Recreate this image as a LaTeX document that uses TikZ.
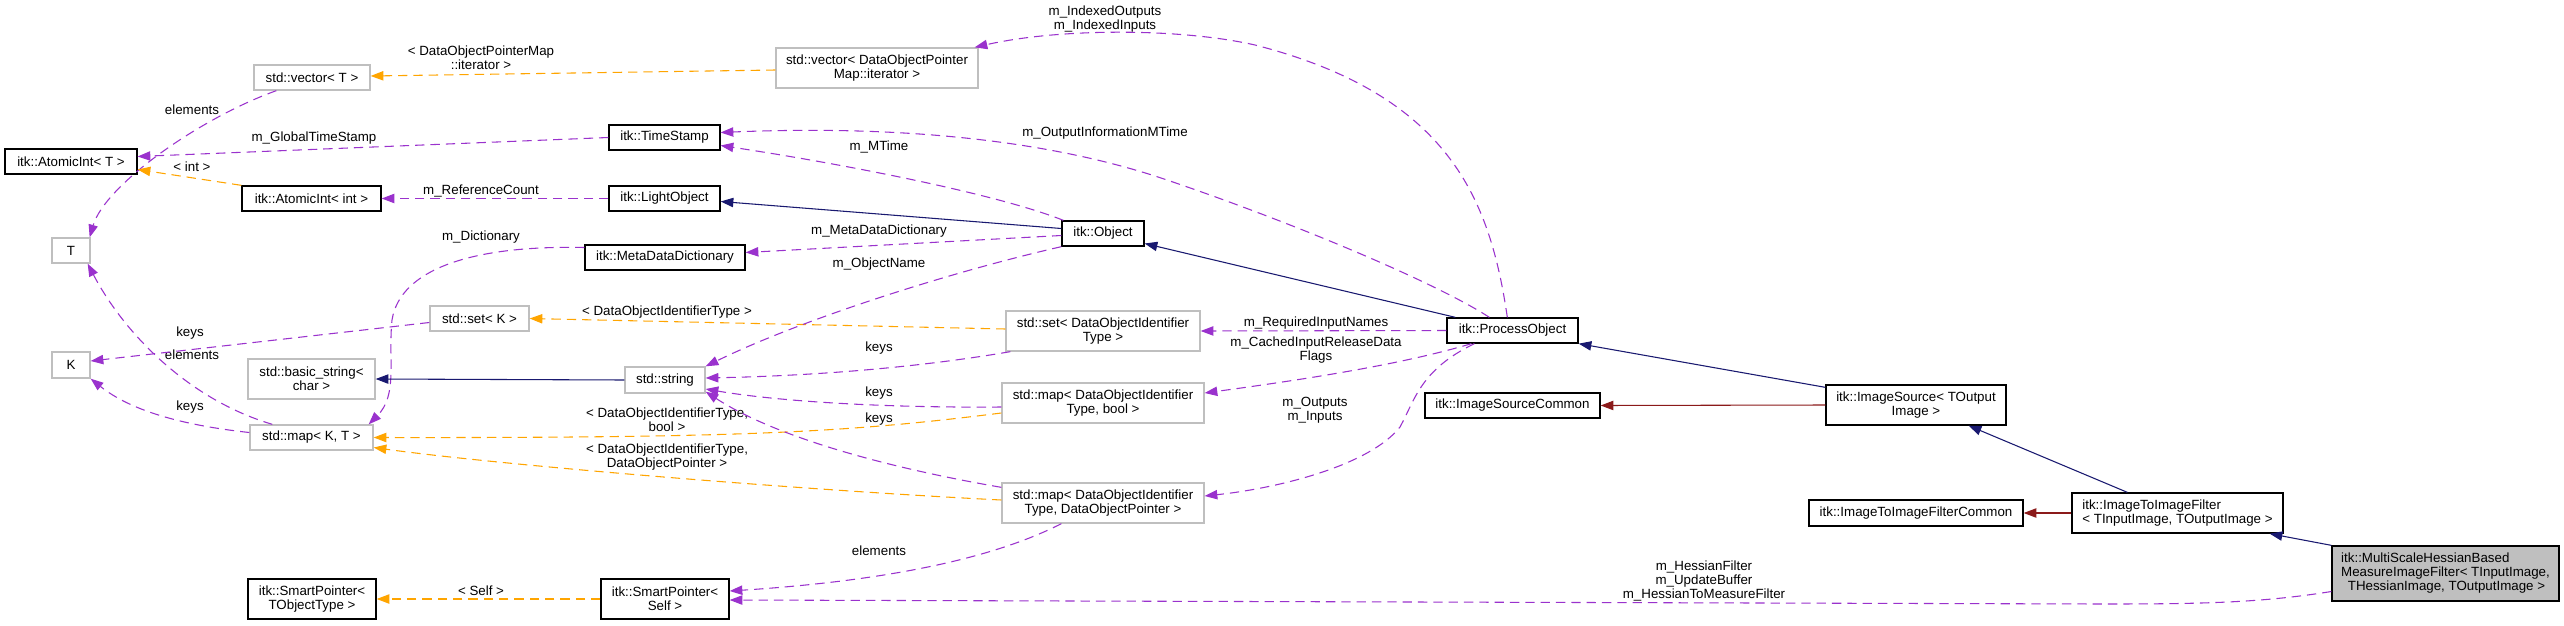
\documentclass[tikz,border=0pt]{standalone}
\usepackage{fontspec}
\setmainfont{Liberation Sans}
\usetikzlibrary{arrows.meta,calc}
\definecolor{epurple}{HTML}{9A32CD}
\definecolor{eorange}{HTML}{FFA500}
\definecolor{enavy}{HTML}{191970}
\definecolor{ered}{HTML}{8B1A1A}
\definecolor{gborder}{HTML}{BFBFBF}
\definecolor{msfill}{HTML}{BFBFBF}
\newcommand\dxbox[7]{\node[#2, minimum width={(#5-#3)*0.75pt}, minimum height={(#6-#4)*0.75pt}] (#1) at ({(#3+#5)/2},{(#4+#6)/2}) {#7};}
\begin{document}
\begin{tikzpicture}[x=0.75pt,y=-0.75pt,
  every node/.style={font=\fontsize{10}{10.5}\selectfont, inner sep=0pt},
  cls/.style={draw=black, line width=1pt, fill=white, align=center},
  ucls/.style={draw=gborder, line width=1pt, fill=white, align=center},
  lbl/.style={align=center},
  tip/.style={-{Triangle[length=9.5pt,width=7pt]}},
  uses/.style={tip, color=epurple, line width=0.8pt, dash pattern=on 7pt off 4.5pt},
  tmpl/.style={tip, color=eorange, line width=0.8pt, dash pattern=on 7pt off 4.5pt},
  inh/.style={tip, color=enavy, line width=0.8pt},
  priv/.style={tip, color=ered, line width=0.8pt}]
\fill[white] (0,0) rectangle (2564,625);
\useasboundingbox (0,0) rectangle (2564,625);
% nodes
\dxbox{ati}{cls}{5}{149}{137}{174}{itk::AtomicInt< T >}
\dxbox{vecT}{ucls}{254}{65}{370}{90}{std::vector< T >}
\dxbox{T}{ucls}{52}{238}{90}{263}{T}
\dxbox{atint}{cls}{242}{186}{381}{211}{itk::AtomicInt< int >}
\dxbox{setK}{ucls}{430}{306}{529}{331}{std::set< K >}
\dxbox{K}{ucls}{52}{352}{90}{378}{K}
\dxbox{bstr}{ucls}{248}{359}{375}{399}{std::basic\_string<\\char >}
\dxbox{mapKT}{ucls}{250}{425}{373}{450}{std::map< K, T >}
\dxbox{spT}{cls}{248}{579}{376}{619}{itk::SmartPointer<\\TObjectType >}
\dxbox{ts}{cls}{609}{125}{720}{150}{itk::TimeStamp}
\dxbox{lo}{cls}{609}{186}{720}{211}{itk::LightObject}
\dxbox{mdd}{cls}{585}{245}{745}{270}{itk::MetaDataDictionary}
\dxbox{str}{ucls}{625}{367}{705}{393}{std::string}
\dxbox{spS}{cls}{601}{579}{729}{619}{itk::SmartPointer<\\Self >}
\dxbox{vecD}{ucls}{776}{48}{978}{88}{std::vector< DataObjectPointer\\Map::iterator >}
\dxbox{obj}{cls}{1062}{221}{1144}{246}{itk::Object}
\dxbox{setD}{ucls}{1006}{311}{1200}{351}{std::set< DataObjectIdentifier\\Type >}
\dxbox{mapB}{ucls}{1002}{383}{1204}{423}{std::map< DataObjectIdentifier\\Type, bool >}
\dxbox{mapP}{ucls}{1002}{483}{1204}{523}{std::map< DataObjectIdentifier\\Type, DataObjectPointer >}
\dxbox{po}{cls}{1447}{318}{1578}{343}{itk::ProcessObject}
\dxbox{isc}{cls}{1425}{393}{1600}{418}{itk::ImageSourceCommon}
\dxbox{is}{cls}{1826}{385}{2006}{425}{itk::ImageSource< TOutput\\Image >}
\dxbox{itifc}{cls}{1809}{500}{2023}{526}{itk::ImageToImageFilterCommon}
\dxbox{itif}{cls,align=left}{2072}{493}{2283}{533}{itk::ImageToImageFilter\\< TInputImage, TOutputImage >}
\dxbox{ms}{cls,fill=msfill,align=left}{2332}{546}{2559}{601}{itk::MultiScaleHessianBased\\MeasureImageFilter< TInputImage,\\\hspace*{0.5em}THessianImage, TOutputImage >}
% labels
\node[lbl] (l1) at (481,57.5) {< DataObjectPointerMap\\::iterator >};
\node[lbl] (l2) at (192,110) {elements};
\node[lbl] (l3) at (314,138) {m\_GlobalTimeStamp};
\node[lbl] (l4) at (192,167) {< int >};
\node[lbl] (l5) at (481,191) {m\_ReferenceCount};
\node[lbl] (l6) at (481,237) {m\_Dictionary};
\node[lbl] (l7) at (190,333) {keys};
\node[lbl] (l8) at (192,355) {elements};
\node[lbl] (l9) at (190,407) {keys};
\node[lbl] (l10) at (481,591) {< Self >};
\node[lbl] (l11) at (1105,19.5) {m\_IndexedOutputs\\m\_IndexedInputs};
\node[lbl] (l12) at (1105,133) {m\_OutputInformationMTime};
\node[lbl] (l13) at (879,147) {m\_MTime};
\node[lbl] (l14) at (879,231) {m\_MetaDataDictionary};
\node[lbl] (l15) at (879,264) {m\_ObjectName};
\node[lbl] (l16) at (667,312) {< DataObjectIdentifierType >};
\node[lbl] (l17) at (879,348) {keys};
\node[lbl] (l18) at (879,393) {keys};
\node[lbl] (l19) at (879,419) {keys};
\node[lbl] (l20) at (667,419.5) {< DataObjectIdentifierType,\\bool >};
\node[lbl] (l21) at (667,457.5) {< DataObjectIdentifierType,\\DataObjectPointer >};
\node[lbl] (l22) at (879,551) {elements};
\node[lbl] (l23) at (1316,323) {m\_RequiredInputNames};
\node[lbl] (l24) at (1316,350) {m\_CachedInputReleaseData\\Flags};
\node[lbl] (l25) at (1315,410) {m\_Outputs\\m\_Inputs};
\node[lbl] (l26) at (1704,581) {m\_HessianFilter\\m\_UpdateBuffer\\m\_HessianToMeasureFilter};
% edges
\draw[tmpl] ($(vecD.west)+(0,2)$) -- ($(vecT.east)+(0,-1.5)$);
\draw[uses] ($(vecT.south west)+(23,0)$) .. controls (200,118) and (105,185) .. ($(T.north east)+(-1,0)$);
\draw[uses] (ts.west) -- ($(ati.east)+(0,-5)$);
\draw[tmpl] (atint.north west) -- ($(ati.east)+(0,8)$);
\draw[uses] (lo.west) -- (atint.east);
\draw[uses] ($(mdd.west)+(0,-10)$) .. controls (470,245) and (400,270) .. (392,320) .. controls (388,360) and (398,395) .. ($(mapKT.north east)+(-5,0)$);
\draw[uses] ($(setK.west)+(0,4)$) -- ($(K.east)+(0,-4)$);
\draw[uses] ($(mapKT.north west)+(23,0)$) .. controls (190,400) and (125,335) .. ($(T.south east)+(-3,0)$);
\draw[uses] ($(mapKT.west)+(0,-5)$) .. controls (180,425) and (130,410) .. (K.south east);
\draw[inh] (str.west) -- (bstr.east);
\draw[tmpl] ($(setD.west)+(0,-2)$) -- (setK.east);
\draw[tmpl] ($(mapB.west)+(0,10)$) .. controls (850,432) and (750,438) .. (mapKT.east);
\draw[tmpl] ($(mapP.west)+(0,-3)$) .. controls (800,490) and (500,465) .. ($(mapKT.east)+(0,10)$);
\draw[tmpl] (spS.west) -- (spT.east);
\draw[uses] ($(mapP.south west)+(60,0)$) .. controls (1000,555) and (900,580) .. ($(spS.east)+(0,-8)$);
\draw[uses] ($(ms.west)+(0,18)$) .. controls (2260,603) and (2200,604) .. (2100,604) -- ($(spS.east)+(0,1)$);
\draw[uses] ($(setD.south west)+(5,0)$) .. controls (950,362) and (850,375) .. ($(str.east)+(0,-2)$);
\draw[uses] ($(mapB.west)+(0,4)$) .. controls (870,408) and (770,400) .. ($(str.east)+(0,9)$);
\draw[uses] ($(mapP.north west)+(0,5)$) .. controls (900,470) and (780,440) .. ($(str.south east)+(0,-2)$);
\draw[uses] (obj.south west) .. controls (950,272) and (800,320) .. (str.north east);
\draw[uses] ($(obj.west)+(0,2)$) -- ($(mdd.east)+(0,-5)$);
\draw[uses] ($(obj.north west)+(2,0)$) .. controls (1000,195) and (850,165) .. ($(ts.east)+(0,8)$);
\draw[inh] ($(obj.west)+(0,-5)$) -- ($(lo.east)+(0,3)$);
\draw[inh] ($(po.north west)+(9,0)$) -- ($(obj.east)+(0,10)$);
\draw[uses] ($(po.north west)+(43,0)$) .. controls (1440,285) and (1300,225) .. (1167,180) .. controls (1050,140) and (900,125) .. ($(ts.east)+(0,-5)$);
\draw[uses] ($(po.north west)+(61,0)$) .. controls (1490,200) and (1450,95) .. (1255,45) .. controls (1180,28) and (1060,28) .. ($(vecD.north east)+(-4,0)$);
\draw[uses] (po.west) -- (setD.east);
\draw[uses] ($(po.south west)+(25,0)$) .. controls (1400,365) and (1300,380) .. ($(mapB.east)+(0,-10)$);
\draw[uses] ($(po.south west)+(28,0)$) .. controls (1420,370) and (1415,400) .. (1400,427) .. controls (1370,465) and (1280,488) .. ($(mapP.east)+(0,-7)$);
\draw[inh] ($(is.north west)+(0,3)$) -- (po.south east);
\draw[priv] (is.west) -- (isc.east);
\draw[inh] ($(itif.north west)+(56,0)$) -- ($(is.south east)+(-38,0)$);
\draw[priv] (itif.west) -- (itifc.east);
\draw[inh] (ms.north west) -- ($(itif.south east)+(-14,0)$);
\end{tikzpicture}
\end{document}
